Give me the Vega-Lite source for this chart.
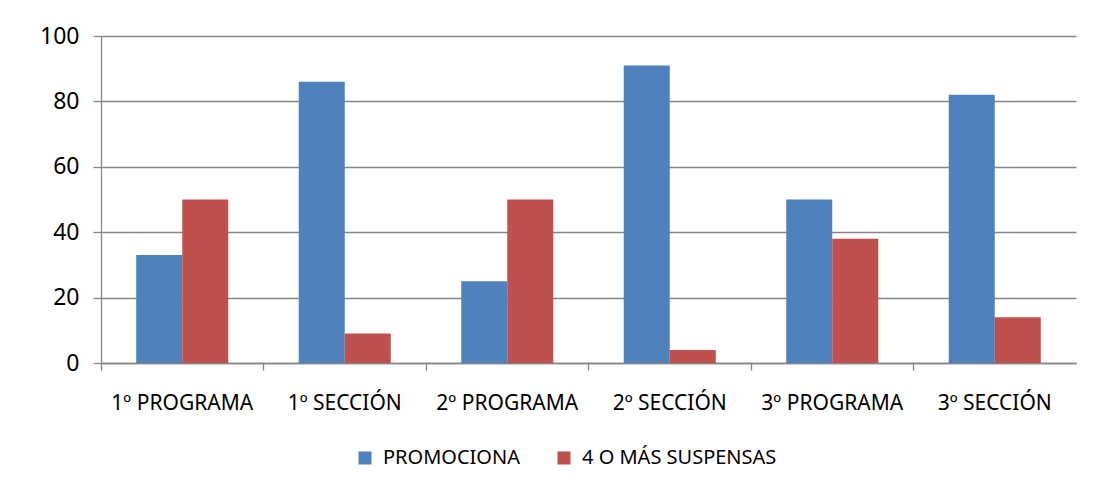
{
  "$schema": "https://vega.github.io/schema/vega-lite/v6.json",
  "autosize": {"type": "none"},
  "padding": {"left": 101, "top": 36, "right": 21, "bottom": 139},
  "width": 975,
  "height": 327,
  "background": "white",
  "config": {
    "font": "Noto Sans",
    "view": {"stroke": null},
    "axis": {"labelFont": "Noto Sans", "labelColor": "#000000", "labelFontSize": 21, "domainColor": "#868686", "tickColor": "#868686", "gridColor": "#868686", "domainWidth": 1.3, "tickWidth": 1.3, "gridWidth": 1.3},
    "legend": {"labelFont": "Noto Sans", "labelFontSize": 20, "labelColor": "#000000", "labelLimit": 0}
  },
  "data": {"values": [
    {"cat": "1º PROGRAMA", "serie": "PROMOCIONA", "v": 33},
    {"cat": "1º PROGRAMA", "serie": "4 O MÁS SUSPENSAS", "v": 50},
    {"cat": "1º SECCIÓN", "serie": "PROMOCIONA", "v": 86},
    {"cat": "1º SECCIÓN", "serie": "4 O MÁS SUSPENSAS", "v": 9},
    {"cat": "2º PROGRAMA", "serie": "PROMOCIONA", "v": 25},
    {"cat": "2º PROGRAMA", "serie": "4 O MÁS SUSPENSAS", "v": 50},
    {"cat": "2º SECCIÓN", "serie": "PROMOCIONA", "v": 91},
    {"cat": "2º SECCIÓN", "serie": "4 O MÁS SUSPENSAS", "v": 4},
    {"cat": "3º PROGRAMA", "serie": "PROMOCIONA", "v": 50},
    {"cat": "3º PROGRAMA", "serie": "4 O MÁS SUSPENSAS", "v": 38},
    {"cat": "3º SECCIÓN", "serie": "PROMOCIONA", "v": 82},
    {"cat": "3º SECCIÓN", "serie": "4 O MÁS SUSPENSAS", "v": 14}
  ]},
  "mark": {"type": "bar"},
  "encoding": {
    "x": {
      "field": "cat", "type": "nominal", "sort": null,
      "scale": {"paddingInner": 0, "paddingOuter": 0},
      "axis": {"title": null, "labelAngle": 0, "bandPosition": 0, "tickSize": 7, "labelPadding": 22, "labelAlign": "center", "grid": false}
    },
    "xOffset": {
      "field": "serie", "type": "nominal", "sort": ["PROMOCIONA", "4 O MÁS SUSPENSAS"],
      "scale": {"paddingInner": 0, "paddingOuter": 0.766}
    },
    "y": {
      "field": "v", "type": "quantitative",
      "scale": {"domain": [0, 100], "nice": false},
      "axis": {"title": null, "values": [0, 20, 40, 60, 80, 100], "tickSize": 8, "labelPadding": 14, "labelFontSize": 23, "grid": true}
    },
    "color": {
      "field": "serie", "type": "nominal", "sort": ["PROMOCIONA", "4 O MÁS SUSPENSAS"],
      "scale": {"domain": ["PROMOCIONA", "4 O MÁS SUSPENSAS"], "range": ["#4F81BD", "#C0504D"]},
      "legend": {"title": null, "orient": "none", "direction": "horizontal", "legendX": 254, "legendY": 412, "symbolType": "square", "symbolSize": 170, "symbolStrokeWidth": 0, "columnPadding": 34, "labelOffset": 8}
    }
  }
}
